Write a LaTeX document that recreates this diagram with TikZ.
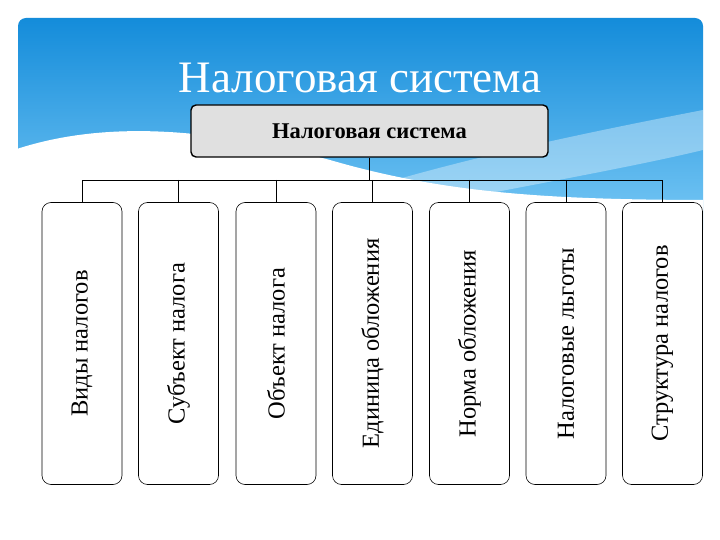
\documentclass[tikz,border=0pt]{standalone}
\usepackage{fontspec}
\setmainfont{Liberation Serif}
\begin{document}
\begin{tikzpicture}[x=1pt,y=-1pt,
  leaf/.style={draw=black,line width=0.6pt,rounded corners=9pt,fill=white,minimum width=80pt,minimum height=282pt,inner sep=0pt},
  wire/.style={draw=black,line width=0.7pt}]
\useasboundingbox (0,0) rectangle (720,540);
\fill[white] (0,0) rectangle (720,540);
\begin{scope}
\clip[rounded corners=8pt] (18,18) rectangle (703,260);
\shade[top color={rgb,255:red,20;green,140;blue,218}, bottom color={rgb,255:red,120;green,200;blue,245}] (18,18) rectangle (703,230);
\fill[white,opacity=0.35] (330,200) .. controls (450,160) and (600,130) .. (703,110) -- (703,150) .. controls (620,170) and (500,190) .. (380,215) -- cycle;
\fill[white] (0,155) .. controls (90,120) and (200,125) .. (330,160) .. controls (450,195) and (560,200) .. (720,200) -- (720,270) -- (0,270) -- cycle;
\end{scope}
\node[text=white,font=\fontsize{45}{48}\selectfont] (title) at (360,78) {Налоговая система};
\node[draw=black,line width=1.4pt,rounded corners=5pt,fill={rgb,255:red,224;green,224;blue,224},minimum width=357pt,minimum height=52pt,font=\bfseries\fontsize{22.5}{26}\selectfont] (top) at (369.5,131) {Налоговая система};
\coordinate (bus) at (369.5,180);
\foreach \i/\x/\t in {1/82/Виды налогов,2/178.5/Субъект налога,3/276/Объект налога,4/372.5/Единица обложения,5/469.5/Норма обложения,6/566/Налоговые льготы,7/662.5/Структура налогов}{
  \node[leaf] (b\i) at (\x,343.5) {};
  \node[rotate=90,font=\fontsize{24.5}{28}\selectfont] (t\i) at (b\i) {\t};
}
\draw[wire] (top.south) -- (bus);
\draw[wire] (b1.north) -- (b1.north |- bus) -- (b7.north |- bus) -- (b7.north);
\foreach \i in {2,3,4,5,6}{\draw[wire] (b\i.north |- bus) -- (b\i.north);}
\end{tikzpicture}
\end{document}
